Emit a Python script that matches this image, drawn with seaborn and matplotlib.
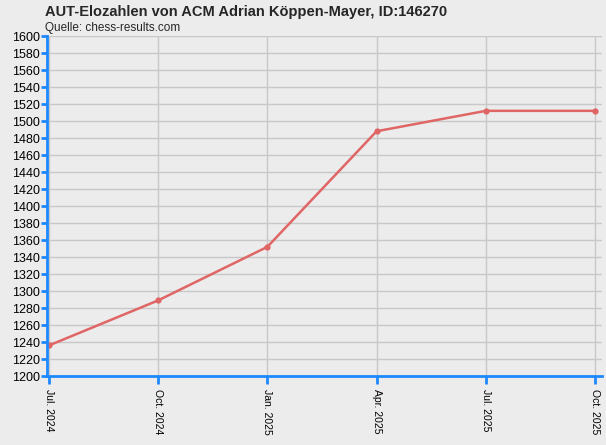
import matplotlib
matplotlib.use("Agg")
import matplotlib.pyplot as plt
import seaborn as sns
import pandas as pd

dates = ["Jul. 2024", "Oct. 2024", "Jan. 2025", "Apr. 2025", "Jul. 2025", "Oct. 2025"]
elo = [1236, 1289, 1352, 1488, 1512, 1512]

sns.set_theme(style="whitegrid")
plt.rcParams['font.family'] = ['Liberation Sans', 'DejaVu Sans']
bg = "#ECECEC"
fig = plt.figure(figsize=(6.06, 4.45), dpi=100, facecolor=bg)
ax = fig.add_axes([0.0776, 0.155, 0.9158, 0.764])
ax.set_facecolor(bg)
df = pd.DataFrame({"x": range(len(dates)), "elo": elo})
sns.lineplot(data=df, x="x", y="elo", ax=ax, color="#E06666", lw=1.8, marker="o",
             markersize=4.5, markeredgewidth=0)
ax.set_xlim(-0.018, 5.064)
ax.set_ylim(1200, 1600)
ax.set_yticks(range(1200, 1601, 20))
ax.set_xticks(range(len(dates)))
ax.set_xticklabels(dates, rotation=270, fontsize=7.5)
ax.tick_params(axis='y', left=True, labelsize=9, length=4, width=2, color="#1E88FF", pad=1, direction='out')
ax.tick_params(axis='x', bottom=True, length=6, width=2, color="#1E88FF", pad=3, direction='out')
for t in ax.get_yticklabels() + ax.get_xticklabels():
    t.set_color("black")
ax.grid(True, color="#C8C8C8", lw=1)
for s in ["top", "right"]:
    ax.spines[s].set_visible(False)
for s in ["left", "bottom"]:
    ax.spines[s].set_color("#1E88FF")
    ax.spines[s].set_linewidth(2)
ax.set_xlabel("")
ax.set_ylabel("")
fig.text(0.074, 0.972, "AUT-Elozahlen von ACM Adrian Köppen-Mayer, ID:146270",
         fontsize=10.5, fontweight="bold", va="center")
fig.text(0.074, 0.937, "Quelle: chess-results.com", fontsize=8.5, va="center")
fig.savefig("out.png", dpi=100, facecolor=bg)
